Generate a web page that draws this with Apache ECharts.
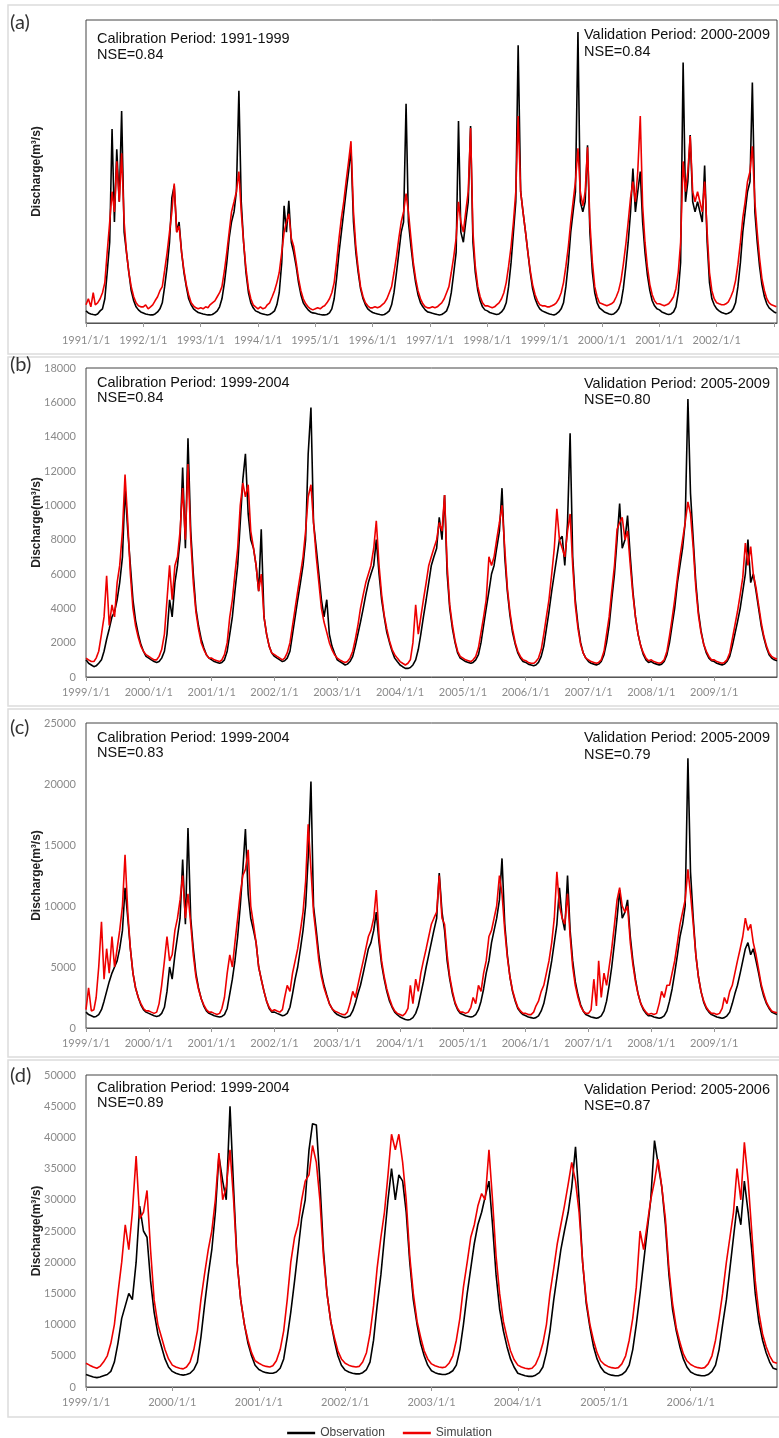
<!DOCTYPE html>
<html><head><meta charset="utf-8">
<script src="https://cdn.jsdelivr.net/npm/echarts@6/dist/echarts.min.js"></script>
<style>html,body{margin:0;padding:0;background:#fff}#c{width:779px;height:1438px}</style>
</head><body><div id="c"></div>
<script>
// ---------- DATA (semi-monthly values: 1st and 16th of each month) ----------
const START_A = 1991, START_B = 1999, START_C = 1999, START_D = 1999;
const TICKS_A = ['1991/1/1','1992/1/1','1993/1/1','1994/1/1','1995/1/1','1996/1/1','1997/1/1','1998/1/1','1999/1/1','2000/1/1','2001/1/1','2002/1/1'];
const TICKS_B = ['1999/1/1','2000/1/1','2001/1/1','2002/1/1','2003/1/1','2004/1/1','2005/1/1','2006/1/1','2007/1/1','2008/1/1','2009/1/1'];
const TICKS_C = TICKS_B.slice();
const TICKS_D = ['1999/1/1','2000/1/1','2001/1/1','2002/1/1','2003/1/1','2004/1/1','2005/1/1','2006/1/1'];

const OBS_A = [
600,500,450,420,400,450,600,700,1200,2500,4000,9600,5000,8600,6000,10500,4500,3500,2500,1600,1100,800,650,550,
500,450,420,400,400,450,550,700,1000,1800,2800,4000,6200,6800,4500,5000,3500,2500,1800,1200,900,700,600,520,
480,450,420,400,400,420,500,600,800,1200,2000,3000,4200,5000,5500,6500,11500,6000,4000,2500,1500,1000,750,600,
550,480,450,420,400,420,500,600,900,1500,3000,5800,4500,6050,4000,3500,2800,2000,1400,1000,800,650,550,500,
480,450,420,400,400,420,500,700,1200,2200,3500,4500,5500,6500,7500,8650,5000,3500,2500,1700,1200,900,700,600,
520,480,450,420,400,420,500,600,900,1500,2500,3500,4500,5000,10850,5000,3800,2800,2000,1400,1000,800,650,550,
520,480,450,420,400,420,500,600,900,1500,2500,3500,10000,4500,4000,5000,6000,9750,4000,2500,1600,1100,800,650,
600,520,480,450,420,450,550,700,1000,1800,3000,4500,6000,13750,6500,5500,4500,3500,2500,1700,1200,900,700,600,
550,500,450,420,400,450,550,700,1000,1800,3000,4500,5500,6500,14400,6000,5500,6000,8800,4500,2500,1500,1000,750,
650,550,500,450,420,450,550,700,1000,1700,2800,4000,5500,7650,5500,6500,7500,5000,3500,2400,1600,1100,850,700,
650,550,500,450,420,450,550,800,1500,3000,12900,6000,7000,9300,6000,5500,6000,5500,5000,7800,4000,2000,1200,900,
700,600,520,480,450,480,550,700,1000,1800,3000,4500,5500,6500,7000,11900,5500,4000,2800,1900,1300,950,750,650,
550,500];
const SIM_A = [
900,1200,800,1500,900,1000,1200,1500,2000,3500,5000,6500,5500,8000,6000,8400,5000,3500,2500,1800,1300,1000,850,800,
800,900,700,800,900,1100,1300,1600,1800,2600,3500,4500,5500,6900,4500,4800,3500,2600,1900,1400,1000,850,750,700,
750,700,800,750,900,1000,1100,1300,1500,1800,2600,3500,4500,5500,6000,6500,7500,5500,4000,2700,1700,1200,900,800,
700,800,700,750,900,1000,1300,1600,2000,2500,3500,4500,5000,5400,4200,3800,3000,2200,1600,1200,950,800,700,650,
700,750,700,800,850,1000,1200,1500,2000,3000,4200,5200,6000,7000,8000,9000,5500,3800,2700,1800,1300,1000,850,750,
750,800,750,800,900,1000,1200,1500,1800,2500,3300,4200,5000,5500,6400,5500,4200,3000,2200,1600,1200,950,800,750,
750,800,750,800,900,1000,1200,1500,1800,2500,3300,4200,6000,5000,4500,5500,6500,9650,4500,2800,1800,1300,1000,850,
850,800,750,800,900,1000,1200,1500,2000,2800,3800,5000,6500,10250,6500,5500,4500,3500,2600,1900,1400,1100,900,850,
850,800,800,850,900,1000,1200,1500,2000,2800,3800,5000,6000,7000,8650,6500,5800,6500,8700,5000,3000,1800,1300,1000,
950,900,850,900,950,1050,1300,1600,2100,2900,3900,5000,6200,7000,6000,7500,10250,5800,4000,2800,1900,1400,1100,950,
950,900,850,900,950,1100,1300,1700,2500,4000,8000,6500,7500,9250,6500,6000,6500,6000,5500,7000,4500,2500,1600,1200,
1000,950,900,900,950,1050,1300,1600,2100,2900,4000,5200,6000,7000,7500,8750,6000,4500,3200,2200,1600,1200,1000,900,
850,800];

const OBS_B = [
1000,800,700,600,650,800,1000,1500,2200,2800,3500,3800,4500,5500,7000,11000,8500,6500,4500,3300,2500,1900,1500,1200,
1100,1000,900,850,900,1100,1500,2500,4500,3500,5500,6500,8000,12200,7500,13900,8500,6000,4000,3000,2200,1700,1300,1100,
1000,900,850,800,850,1000,1500,2500,3500,5000,6500,9000,11500,13000,9500,8000,7500,6500,5000,8600,3500,2500,1800,1400,
1200,1100,1000,900,950,1100,1500,2500,3500,4500,5500,6500,8000,13000,15700,9000,7500,6000,4500,3500,4500,2500,1800,1400,
1000,900,800,700,750,900,1200,1800,2500,3200,4000,4800,5500,6000,6500,8000,6000,4500,3500,2600,2000,1500,1100,900,
700,600,500,500,550,700,1000,1600,2500,3500,4500,5500,6500,7000,7500,9300,8000,10600,6000,4000,2800,2000,1400,1100,
1000,900,850,800,850,1000,1300,2000,3000,4000,5000,6000,6500,7500,8500,11000,7000,5000,3600,2600,1900,1400,1100,900,
850,750,700,650,700,850,1200,1800,2800,3800,5000,6000,7000,8000,8200,6500,9000,14200,7000,4500,3000,2000,1400,1100,
900,800,750,700,750,900,1300,2000,3000,4500,6000,8000,10100,7500,8000,9400,7000,5000,3500,2500,1800,1300,1000,850,
900,800,750,700,750,900,1300,2000,3000,4000,5500,6500,7500,9000,16200,10700,8000,5500,3800,2700,1900,1400,1100,950,
900,800,750,700,750,900,1200,1800,2500,3200,4000,5000,6000,8000,5500,6000,5000,4000,3000,2300,1700,1300,1100,1000,
950];
const SIM_B = [
1100,1000,900,900,1100,1500,2500,3500,5900,3000,4200,3500,5500,6500,8500,11800,9000,6000,4000,3000,2300,1800,1500,1300,
1200,1100,1000,1000,1200,1600,2500,4500,6500,4500,6500,7000,8500,11000,8000,12400,8000,5500,3800,2800,2000,1600,1300,1100,
1100,1000,950,900,1000,1300,2000,3500,4500,6000,7500,10000,11300,10500,11200,8500,7500,6500,5000,6000,3500,2500,1800,1400,
1300,1200,1100,1000,1100,1400,2000,3000,4000,5000,6000,7000,8500,10500,11200,9000,7000,5500,4000,3200,2600,2000,1600,1300,
1100,1000,900,850,900,1100,1500,2200,3000,4000,4800,5500,6000,6500,7500,9100,6500,4800,3600,2800,2100,1600,1300,1100,
900,800,700,800,1000,2000,4200,2500,3500,4500,5500,6500,7000,7500,8000,9000,8500,10600,6500,4200,3000,2100,1500,1200,
1100,1000,950,900,1000,1200,1700,2600,3500,4500,7000,6500,7000,8000,9000,10000,7500,5200,3800,2800,2000,1500,1200,1000,
950,850,800,800,900,1100,1600,2500,3500,4500,6000,7500,9800,8000,7500,7000,8500,9500,6500,4200,2800,1900,1400,1100,
1000,900,850,800,850,1000,1500,2500,3500,5000,6500,8600,9000,9300,8000,8500,6500,4800,3500,2500,1800,1400,1100,950,
1000,900,850,800,850,1000,1500,2400,3400,4500,5800,7000,8000,9000,10200,9500,7500,5200,3600,2600,1900,1500,1200,1000,
1000,900,850,800,850,1000,1400,2200,3000,3800,4800,5800,7800,6500,7600,6000,5200,4200,3200,2400,1800,1400,1200,1100,
1050];

const OBS_C = [
1300,1100,1000,900,950,1100,1500,2200,3000,3800,4500,5000,5500,6500,8000,11500,9000,6500,4500,3300,2500,1900,1500,1300,
1200,1100,1000,950,1000,1200,1700,3000,5000,4000,6000,7500,9000,13800,8500,16400,9000,6500,4500,3300,2400,1800,1400,1200,
1100,1000,950,900,950,1100,1600,2800,4000,5500,7500,10000,13000,16300,11000,9000,8000,7000,5000,4000,3000,2200,1600,1300,
1300,1200,1100,1000,1050,1200,1700,2800,4000,5000,6500,8000,10000,14000,20200,10000,8000,6000,4500,3500,2700,2000,1600,1300,
1100,1000,900,850,900,1000,1400,2000,2800,3500,4500,5500,6500,7000,8000,9500,7000,5200,4000,3000,2200,1700,1300,1100,
900,800,700,650,700,850,1200,1800,2800,3800,5000,6000,7000,8000,9000,12700,9500,8000,5500,4000,2800,2000,1500,1200,
1100,1000,950,900,950,1100,1500,2200,3200,4500,5500,7000,8000,9000,10500,13900,8500,6000,4200,3000,2200,1600,1300,1100,
1000,900,850,800,850,1000,1400,2000,3000,4200,5500,7000,8500,11500,9000,8000,12500,8000,5500,3800,2700,1900,1400,1100,
1000,900,850,800,850,1000,1400,2200,3500,5000,7000,9000,11300,9000,9500,10500,7500,5500,4000,2800,2000,1500,1200,1000,
1000,900,850,800,850,1000,1400,2200,3200,4500,6000,7500,8500,10000,22100,12800,9000,6000,4200,3000,2100,1600,1300,1100,
1000,900,850,800,850,1000,1300,2000,2800,3500,4500,5500,6500,7000,6000,6500,5500,4500,3400,2600,2000,1600,1300,1200,
1100];
const SIM_C = [
1500,3300,1400,1500,2500,5000,8700,4000,6500,4500,7500,5000,6500,8000,10000,14200,9500,6500,4500,3300,2500,2000,1600,1400,
1400,1300,1200,1300,2000,3500,5500,7500,5500,6000,8000,9000,10500,12500,9000,11000,8500,6000,4200,3200,2400,1900,1500,1300,
1300,1200,1100,1200,1600,2500,4500,6000,5000,7000,9000,11000,12500,13000,14600,10000,8500,7000,5000,4000,3000,2200,1700,1400,
1500,1400,1300,1500,2500,3500,3000,4500,5500,6500,8000,9500,12000,16700,13000,9500,7500,5500,4200,3300,2600,2000,1600,1400,
1300,1200,1100,1100,1300,2000,3000,2500,3500,4500,5500,6500,7500,8000,9000,11300,7500,5500,4200,3200,2400,1800,1400,1200,
1100,1000,1200,1600,3500,2000,4000,3000,4500,5500,6500,7500,8500,9000,9500,12500,9000,8500,6000,4200,3000,2100,1600,1300,
1300,1200,1300,1700,2500,2000,3500,3000,4500,5500,7500,8000,9000,10000,12500,11000,8000,5800,4200,3100,2300,1700,1400,1200,
1200,1100,1100,1300,1800,2200,3000,3500,4500,5500,7000,9000,12800,10000,9000,8500,11000,7500,5000,3500,2500,1800,1400,1200,
1200,1500,4000,1800,5500,2500,4500,3500,5000,6500,8500,10500,11500,10000,9500,10000,7000,5200,3800,2800,2000,1600,1300,1100,
1200,1100,1200,2000,3000,2500,3500,3500,4500,5500,7000,8500,9500,10500,13000,11000,8500,6000,4200,3000,2200,1700,1400,1200,
1200,1100,1200,1600,2500,2000,3000,3500,4500,5500,6500,7500,9000,8000,8500,7000,6000,4800,3600,2800,2100,1700,1400,1300,
1250];

const OBS_D = [
2000,1800,1600,1500,1600,1800,2000,2500,4000,7000,11000,13000,15000,14000,20000,29000,25000,24000,17000,12000,8500,6500,4500,3200,
2500,2200,2000,1900,2000,2200,2800,4000,8000,13000,18000,22000,28000,37000,33000,30000,45000,32000,20000,14000,10000,7000,5000,3500,
2800,2500,2300,2200,2200,2400,3000,4500,8000,12000,17000,22000,27000,30000,38000,42200,42000,33000,22000,15000,10500,7500,5000,3500,
2700,2400,2200,2100,2100,2300,2800,4000,7500,13000,18000,24000,30000,35000,30000,34000,33000,28000,20000,14000,10000,7000,5000,3500,
2600,2300,2100,2000,2000,2200,2600,3500,6000,10000,15000,19000,23000,26000,28000,30500,33000,26000,18000,12500,9000,6500,4500,3200,
2200,2000,1800,1700,1700,1900,2300,3200,5500,9000,14000,18000,22000,25000,28000,32000,38500,30000,20000,13500,9500,6500,4500,3200,
2400,2100,1900,1800,1800,2000,2500,3500,6000,10000,15000,20000,25000,30000,39500,35800,32000,26000,18000,12500,9000,6500,4500,3200,
2400,2100,1900,1800,1800,2000,2500,3500,6000,10000,14000,19000,24000,29000,26000,33000,28000,22000,15000,10500,7500,5500,4000,3000,
2800];
const SIM_D = [
3800,3500,3200,3000,3300,4000,5000,7000,10000,15000,20000,26000,22000,28000,37000,27000,28000,31500,22000,14000,10000,8000,6000,4500,
3500,3200,3000,2900,3200,4000,6000,9000,14000,18000,22000,25000,30000,37500,30000,32000,38000,30000,20000,14000,10000,7500,5500,4200,
3800,3500,3300,3200,3400,4200,6000,9000,14000,20000,24000,26000,30000,33000,34000,38700,36000,30000,21000,15000,10500,8000,5800,4500,
3800,3500,3300,3200,3300,4000,5500,8500,13000,19000,24000,28000,34000,40500,38000,40500,36000,30000,21000,15000,10500,8000,5800,4500,
3700,3400,3200,3100,3200,3800,5000,7500,11000,16000,20000,24000,26000,29000,31000,30000,38000,30000,21000,15000,10500,8000,5800,4400,
3500,3200,3000,2900,3000,3600,5000,7000,10000,15000,19000,23000,26000,29000,32500,36000,33000,28000,20000,14000,10000,7500,5500,4200,
3600,3300,3100,3000,3100,3700,5000,7500,11000,16000,25000,22000,26000,30000,33000,36500,32000,27000,19000,13500,9500,7200,5300,4200,
3600,3300,3100,3000,3100,3700,5000,7500,11000,15000,20000,24000,28000,35000,30000,39200,33000,25000,17000,12000,8500,6500,5000,4000,
3800];

const ANNOT = [
  {cal:'Calibration Period: 1991-1999', calNse:'NSE=0.84', val:'Validation Period: 2000-2009', valNse:'NSE=0.84', tag:'(a)'},
  {cal:'Calibration Period: 1999-2004', calNse:'NSE=0.84', val:'Validation Period: 2005-2009', valNse:'NSE=0.80', tag:'(b)'},
  {cal:'Calibration Period: 1999-2004', calNse:'NSE=0.83', val:'Validation Period: 2005-2009', valNse:'NSE=0.79', tag:'(c)'},
  {cal:'Calibration Period: 1999-2004', calNse:'NSE=0.89', val:'Validation Period: 2005-2006', valNse:'NSE=0.87', tag:'(d)'}
];

// ---------- BUILD ----------
function pairs(startYear, vals){
  return vals.map((v,i)=>{
    const y = startYear + Math.floor(i/24);
    const m = Math.floor((i%24)/2);
    const d = (i%2) ? 16 : 1;
    return [new Date(y,m,d).getTime(), v];
  });
}
const panels = [
  {start:START_A, end:new Date(2003,0,20).getTime(), ticks:TICKS_A, obs:OBS_A, sim:SIM_A, ymax:15000, yint:null, showY:false, top:20, h:303, lm:12},
  {start:START_B, end:new Date(2010,0,1).getTime(), ticks:TICKS_B, obs:OBS_B, sim:SIM_B, ymax:18000, yint:2000, showY:true, top:368, h:309, lm:10},
  {start:START_C, end:new Date(2010,0,1).getTime(), ticks:TICKS_C, obs:OBS_C, sim:SIM_C, ymax:25000, yint:5000, showY:true, top:723, h:305, lm:10},
  {start:START_D, end:new Date(2007,0,1).getTime(), ticks:TICKS_D, obs:OBS_D, sim:SIM_D, ymax:50000, yint:5000, showY:true, top:1075, h:312, lm:10}
];
const LBL = {color:'#8a8a8a', fontFamily:'Lato', fontSize:11};
const grid=[], xAxis=[], yAxis=[], series=[];
panels.forEach((p,i)=>{
  grid.push({left:86, right:2, top:p.top, height:p.h, show:true, borderColor:'#444', borderWidth:1, containLabel:false, outerBoundsMode:'none'});
  const ticks = p.ticks;
  xAxis.push({type:'time', gridIndex:i, min:new Date(p.start,0,1).getTime(), max:p.end,
    minInterval:365*864e5, maxInterval:366*864e5, splitNumber:12,
    splitLine:{show:false},
    axisLine:{show:true, lineStyle:{color:'#555', width:1}},
    axisTick:{show:true, length:4, lineStyle:{color:'#999'}},
    axisLabel:Object.assign({margin:p.lm, hideOverlap:false, showMinLabel:true, showMaxLabel:false,
      formatter:function(v){const d=new Date(v);const s=d.getFullYear()+'/'+(d.getMonth()+1)+'/'+d.getDate();return ticks.indexOf(s)>=0?s:'';}}, LBL)
  });
  yAxis.push({type:'value', gridIndex:i, min:0, max:p.ymax, interval:p.yint||undefined,
    splitLine:{show:false}, axisLine:{show:false}, axisTick:{show:false},
    axisLabel:Object.assign({show:p.showY, margin:10, formatter:function(v){return String(v);}}, LBL),
    name:'Discharge(m³/s)', nameLocation:'middle', nameGap:43, nameMoveOverlap:false,
    nameTextStyle:{fontFamily:'Liberation Sans', fontWeight:'bold', fontSize:12, color:'#222'}
  });
  series.push({name:'Observation', type:'line', xAxisIndex:i, yAxisIndex:i, data:pairs(p.start,p.obs), symbol:'none', lineStyle:{color:'#000', width:1.6}, itemStyle:{color:'#000'}, animation:false});
  series.push({name:'Simulation', type:'line', xAxisIndex:i, yAxisIndex:i, data:pairs(p.start,p.sim), symbol:'none', lineStyle:{color:'#ee0000', width:1.6}, itemStyle:{color:'#ee0000'}, animation:false});
});

const boxes = [[5,349],[357,349],[709,348],[1060,357]];
const tagY = [25,367,730,1078];
const calY = [[39,55],[383,398],[738,753],[1088,1103]];
const valY = [[35,52],[384,400],[738,755],[1090,1106]];
const graphic = [];
boxes.forEach(b=>graphic.push({type:'rect', shape:{x:8,y:b[0],width:790,height:b[1]}, style:{fill:'none', stroke:'#dcdcdc', lineWidth:1.5}, silent:true, z:-10}));
ANNOT.forEach((a,i)=>{
  const T = {fontFamily:'Liberation Sans', fontSize:14.5, fill:'#111', textVerticalAlign:'middle'};
  graphic.push({type:'text', left:10, top:tagY[i]-12, style:{text:a.tag, fontFamily:'Lato', fontSize:20, fill:'#333'}});
  graphic.push({type:'text', x:97, y:calY[i][0], style:Object.assign({text:a.cal}, T)});
  graphic.push({type:'text', x:97, y:calY[i][1], style:Object.assign({text:a.calNse}, T)});
  graphic.push({type:'text', x:584, y:valY[i][0], style:Object.assign({text:a.val}, T)});
  graphic.push({type:'text', x:584, y:valY[i][1], style:Object.assign({text:a.valNse}, T)});
});

const chart = echarts.init(document.getElementById('c'), null, {renderer:'canvas'});
chart.setOption({
  animation:false,
  backgroundColor:'#fff',
  grid, xAxis, yAxis, series, graphic,
  legend:{data:['Observation','Simulation'], left:'center', top:1422, icon:'rect', itemWidth:28, itemHeight:2.5, itemGap:18,
    textStyle:{fontFamily:'Liberation Sans', fontSize:12, color:'#444'}}
});
</script></body></html>
